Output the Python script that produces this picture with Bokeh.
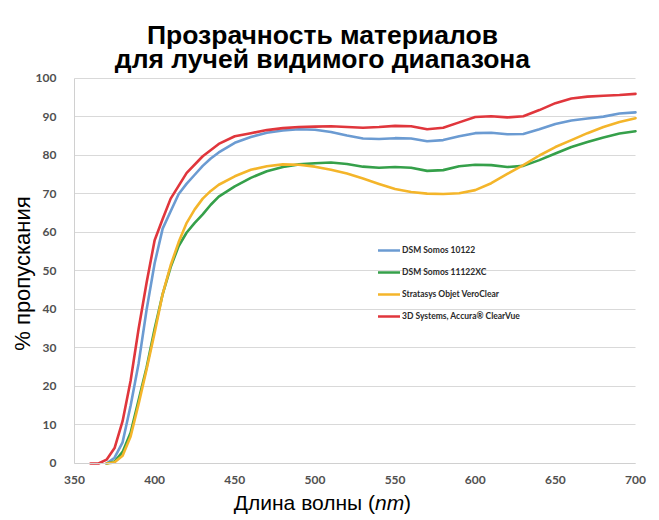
from bokeh.plotting import figure
from bokeh.models import ColumnDataSource, FixedTicker, Label, Legend, LegendItem
from bokeh.embed import file_html
from bokeh.resources import INLINE

# ---- data ----
wl_red = [360, 365, 370, 375, 380, 385, 390, 395, 400, 405, 410, 420, 430, 440, 450, 460, 470, 480, 490,
          500, 510, 520, 530, 540, 550, 560, 570, 580, 590, 600, 610, 620, 630, 640, 650, 660, 670, 680, 690, 700]
red = [0, 0, 1, 4, 11, 21.5, 35, 47, 58, 63.5, 68.8, 75.5, 79.8, 83, 85, 85.8, 86.6, 87.1, 87.4,
       87.5, 87.6, 87.4, 87.2, 87.4, 87.7, 87.6, 86.8, 87.2, 88.6, 90.0, 90.2, 89.9, 90.2, 91.8, 93.6, 94.8, 95.3, 95.5, 95.7, 96.0]

wl = [370, 375, 380, 385, 390, 395, 400, 405, 410, 415, 420, 425, 430, 435, 440, 450, 460, 470, 480, 490,
      500, 510, 520, 530, 540, 550, 560, 570, 580, 590, 600, 610, 620, 630, 640, 650, 660, 670, 680, 690, 700]
blue = [0, 1.5, 5.5, 15, 26, 40, 52, 61, 65.5, 70, 72.7, 75, 77.3, 79.2, 80.8, 83.3, 84.8, 85.9, 86.5, 86.8,
        86.7, 86.1, 85.2, 84.4, 84.3, 84.5, 84.4, 83.7, 84.0, 85.0, 85.8, 85.9, 85.5, 85.6, 86.8, 88.2, 89.1, 89.6, 90.1, 90.9, 91.2]
green = [0, 0.5, 3, 8, 16.5, 25, 35, 44, 51, 56.5, 60, 62.5, 64.7, 67.2, 69.3, 72, 74.2, 75.9, 77.0, 77.7,
         78.0, 78.2, 77.8, 77.1, 76.8, 77.0, 76.8, 76.0, 76.2, 77.2, 77.6, 77.5, 77.0, 77.3, 78.8, 80.5, 82.2, 83.5, 84.7, 85.7, 86.3]
yellow = [0, 0.3, 2, 7, 15.5, 24.5, 34, 44, 51.5, 57.5, 62.5, 66, 68.8, 70.8, 72.4, 74.6, 76.3, 77.2, 77.7, 77.6,
          77.1, 76.3, 75.3, 74.0, 72.6, 71.3, 70.5, 70.1, 70.0, 70.2, 71.0, 72.8, 75.2, 77.5, 80.0, 82.2, 84.0, 85.8, 87.4, 88.7, 89.7]

names = ["DSM Somos 10122", "DSM Somos 11122XC", "Stratasys Objet VeroClear", "3D Systems, Accura® ClearVue"]
colors = ["#6b9bd2", "#35a04a", "#f4b52a", "#e0363c"]

x_ticks = [350, 400, 450, 500, 550, 600, 650, 700]
y_ticks = [0, 10, 20, 30, 40, 50, 60, 70, 80, 90, 100]

title_lines = ["Прозрачность материалов", "для лучей видимого диапазона"]
x_label = ["Длина волны (", "nm", ")"]
y_label = "% пропускания"

# ---- figure ----
# the frame covers almost the whole canvas; the axes are pinned at x=350 / y=0
p = figure(width=649, height=518, output_backend="svg", toolbar_location=None,
           x_range=(306.33, 708.73), y_range=(-14.286, 118.961),
           min_border_left=4, min_border_right=0, min_border_top=5, min_border_bottom=0)
p.outline_line_color = None
p.background_fill_color = "white"
p.border_fill_color = "white"

p.xgrid.grid_line_color = None
p.ygrid.grid_line_color = "#d9d9d9"
p.ygrid.grid_line_width = 1
try:
    p.ygrid.cross_bounds = (350, 700)
    use_segments = False
except AttributeError:
    p.ygrid.visible = False
    use_segments = True

for ax in (p.xaxis, p.yaxis):
    ax.axis_line_color = "#d0d0d0"
    ax.major_tick_line_color = None
    ax.minor_tick_line_color = None
    ax.major_label_text_font = "Lato"
    ax.major_label_text_font_style = "bold"
    ax.major_label_text_font_size = "12px"
    ax.major_label_text_color = "#505050"
p.xaxis.ticker = FixedTicker(ticks=x_ticks)
p.yaxis.ticker = FixedTicker(ticks=y_ticks)
p.xaxis.fixed_location = 0
p.yaxis.fixed_location = 350
p.xaxis.bounds = (350, 700)
p.yaxis.bounds = (0, 100)
p.xaxis.major_label_standoff = 7
p.yaxis.major_label_standoff = 12

if use_segments:
    p.segment(x0=[x_ticks[0]] * len(y_ticks), x1=[x_ticks[-1]] * len(y_ticks), y0=y_ticks, y1=y_ticks,
              line_color="#d9d9d9", line_width=1, level="underlay")

sources = [
    ColumnDataSource(dict(x=wl, y=blue)),
    ColumnDataSource(dict(x=wl, y=green)),
    ColumnDataSource(dict(x=wl, y=yellow)),
    ColumnDataSource(dict(x=wl_red, y=red)),
]
renderers = []
for src, c in zip(sources, colors):
    r = p.line("x", "y", source=src, line_color=c, line_width=2.6, line_join="round", line_cap="round")
    renderers.append(r)

legend = Legend(items=[LegendItem(label=n, renderers=[r]) for n, r in zip(names, renderers)],
                location=(374, 194), background_fill_alpha=0, border_line_alpha=0,
                label_text_font="Lato", label_text_font_style="bold", label_text_font_size="8.5px",
                label_text_color="#2a2a2a", glyph_width=22, glyph_height=16, label_height=16,
                spacing=6, padding=0, margin=0, label_standoff=2)
p.add_layout(legend, "center")

# two title lines
for txt, yy in zip(title_lines, [111.4, 105.0]):
    p.add_layout(Label(x=504.7, y=yy, text=txt, text_align="center", text_baseline="alphabetic",
                       text_font="Liberation Sans", text_font_style="bold", text_font_size="26.5px",
                       text_color="black"))

# x axis label with italic "nm"
xl_y = -10.1
for txt, xx, al, st in [(x_label[0], 537.5, "right", "normal"), (x_label[1], 537.5, "left", "italic"),
                        (x_label[2], 555.6, "left", "normal")]:
    p.add_layout(Label(x=xx, y=xl_y, text=txt, text_align=al, text_baseline="alphabetic",
                       text_font="Liberation Sans", text_font_style=st, text_font_size="21px",
                       text_color="black"))

# y axis label
p.add_layout(Label(x=317.6, y=49.35, text=y_label, angle=90, angle_units="deg", text_align="center",
                   text_baseline="middle", text_font="Liberation Sans", text_font_size="22px",
                   text_color="black"))

open("out.html", "w").write(file_html(p, INLINE))
